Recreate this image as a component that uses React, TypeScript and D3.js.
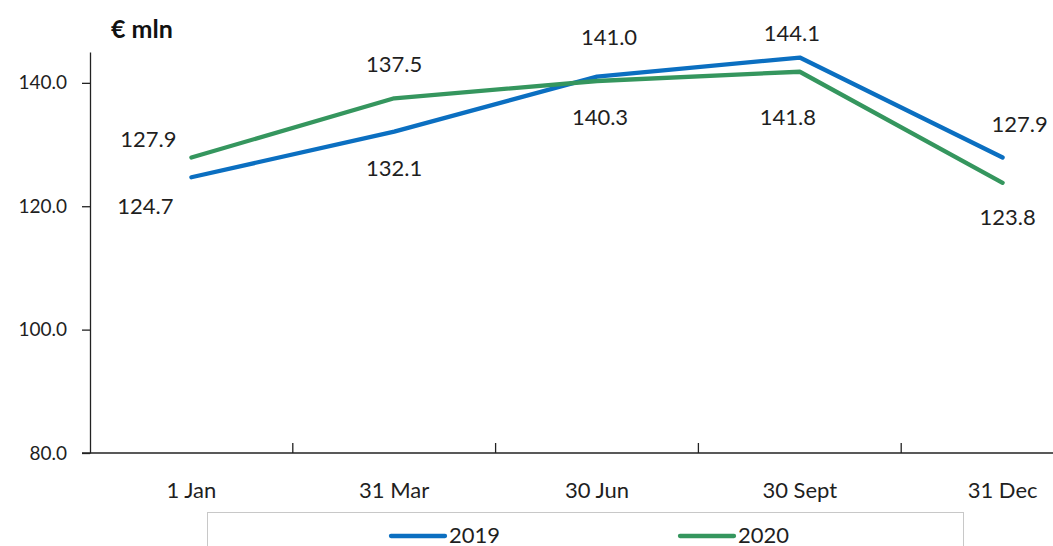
import React, { useEffect, useRef } from 'react';
import * as d3 from 'd3';

// chart data
const categories = ['1 Jan', '31 Mar', '30 Jun', '30 Sept', '31 Dec'];
const series2019 = [124.7, 132.1, 141.0, 144.1, 127.9];
const series2020 = [127.9, 137.5, 140.3, 141.8, 123.8];
const yTicks = [80, 100, 120, 140];
const unitLabel = '€ mln';

// hand placed data labels (dx, dy from the point), like in the original sheet
const labelOffsets2019 = [[-46, 28], [0, 36], [12, -40], [-8, -25], [17, -34]];
const labelOffsets2020 = [[-43, -19], [0, -35], [3, 36], [-12, 45], [5, 34]];

const FONT = 'Lato, "Open Sans", sans-serif';
const TEXT = '#1f1f1f';

const App = () => {
  const ref = useRef(null);

  useEffect(() => {
    if (!ref.current) return;
    const W = 1053, H = 546;
    const left = 90, bottom = 453, top = 52;
    const band = 202.8;

    d3.select(ref.current).selectAll('*').remove();
    const svg = d3.select(ref.current)
      .append('svg')
      .attr('width', W)
      .attr('height', H)
      .style('display', 'block')
      .style('overflow', 'hidden');

    svg.append('rect').attr('width', W).attr('height', H).attr('fill', '#fff');

    const x = d3.scaleBand()
      .domain(categories)
      .range([left, left + band * categories.length])
      .padding(0);
    const y = d3.scaleLinear().domain([80, 145]).range([bottom, top]);
    const cx = d => x(d) + x.bandwidth() / 2;

    // y axis
    const yAxis = svg.append('g').attr('transform', `translate(${left},0)`)
      .call(d3.axisLeft(y).tickValues(yTicks).tickSize(8).tickSizeOuter(0).tickPadding(15).tickFormat(d3.format('.1f')));
    yAxis.select('.domain').attr('stroke', '#222').attr('stroke-width', 1.3);
    yAxis.selectAll('.tick line').attr('stroke', '#222').attr('stroke-width', 1.3);
    yAxis.selectAll('text').attr('fill', TEXT).style('font-family', FONT).style('font-size', '19px');

    // x axis, ticks between categories pointing up
    const xg = svg.append('g');
    xg.append('line')
      .attr('x1', left - 8).attr('x2', left + band * categories.length)
      .attr('y1', bottom).attr('y2', bottom)
      .attr('stroke', '#222').attr('stroke-width', 1.3);
    xg.selectAll('line.tk')
      .data(categories.slice(1).concat(['end']))
      .enter().append('line')
      .attr('class', 'tk')
      .attr('x1', (d, i) => left + band * (i + 1))
      .attr('x2', (d, i) => left + band * (i + 1))
      .attr('y1', bottom).attr('y2', bottom - 10)
      .attr('stroke', '#222').attr('stroke-width', 1.3);
    xg.selectAll('text')
      .data(categories)
      .enter().append('text')
      .attr('x', d => cx(d))
      .attr('y', bottom + 36)
      .attr('text-anchor', 'middle')
      .attr('dominant-baseline', 'central')
      .attr('fill', TEXT)
      .style('font-family', FONT)
      .style('font-size', '22px')
      .text(d => d);

    // unit title
    svg.append('text')
      .attr('x', 111).attr('y', 28)
      .attr('dominant-baseline', 'central')
      .attr('fill', '#111')
      .style('font-family', FONT)
      .style('font-weight', 'bold')
      .style('font-size', '25px')
      .text(unitLabel);

    const series = [
      { name: '2019', values: series2019, color: '#0B6FC1', offsets: labelOffsets2019 },
      { name: '2020', values: series2020, color: '#35965E', offsets: labelOffsets2020 },
    ];

    const line = d3.line()
      .x((d, i) => cx(categories[i]))
      .y(d => y(d));

    series.forEach(s => {
      svg.append('path')
        .datum(s.values)
        .attr('d', line)
        .attr('fill', 'none')
        .attr('stroke', s.color)
        .attr('stroke-width', 4.3)
        .attr('stroke-linejoin', 'round')
        .attr('stroke-linecap', 'round');
    });

    series.forEach(s => {
      svg.append('g').selectAll('text')
        .data(s.values)
        .enter().append('text')
        .attr('x', (d, i) => cx(categories[i]) + s.offsets[i][0])
        .attr('y', (d, i) => y(d) + s.offsets[i][1])
        .attr('text-anchor', 'middle')
        .attr('dominant-baseline', 'central')
        .attr('fill', TEXT)
        .style('font-family', FONT)
        .style('font-size', '22px')
        .text(d => d3.format('.1f')(d));
    });

    // legend
    const lg = svg.append('g');
    lg.append('rect')
      .attr('x', 207.5).attr('y', 512.5)
      .attr('width', 756).attr('height', 60)
      .attr('fill', '#fff')
      .attr('stroke', '#c8c8c8');
    const legendX = [391, 680];
    series.forEach((s, i) => {
      lg.append('line')
        .attr('x1', legendX[i]).attr('x2', legendX[i] + 54)
        .attr('y1', 536).attr('y2', 536)
        .attr('stroke', s.color).attr('stroke-width', 4.3)
        .attr('stroke-linecap', 'round');
      lg.append('text')
        .attr('x', legendX[i] + 58).attr('y', 534)
        .attr('dominant-baseline', 'central')
        .attr('fill', TEXT)
        .style('font-family', FONT)
        .style('font-size', '22px')
        .text(s.name);
    });
  }, []);

  return <div ref={ref} style={{ position: 'absolute', left: 0, top: 0 }} />;
};

export default App;
